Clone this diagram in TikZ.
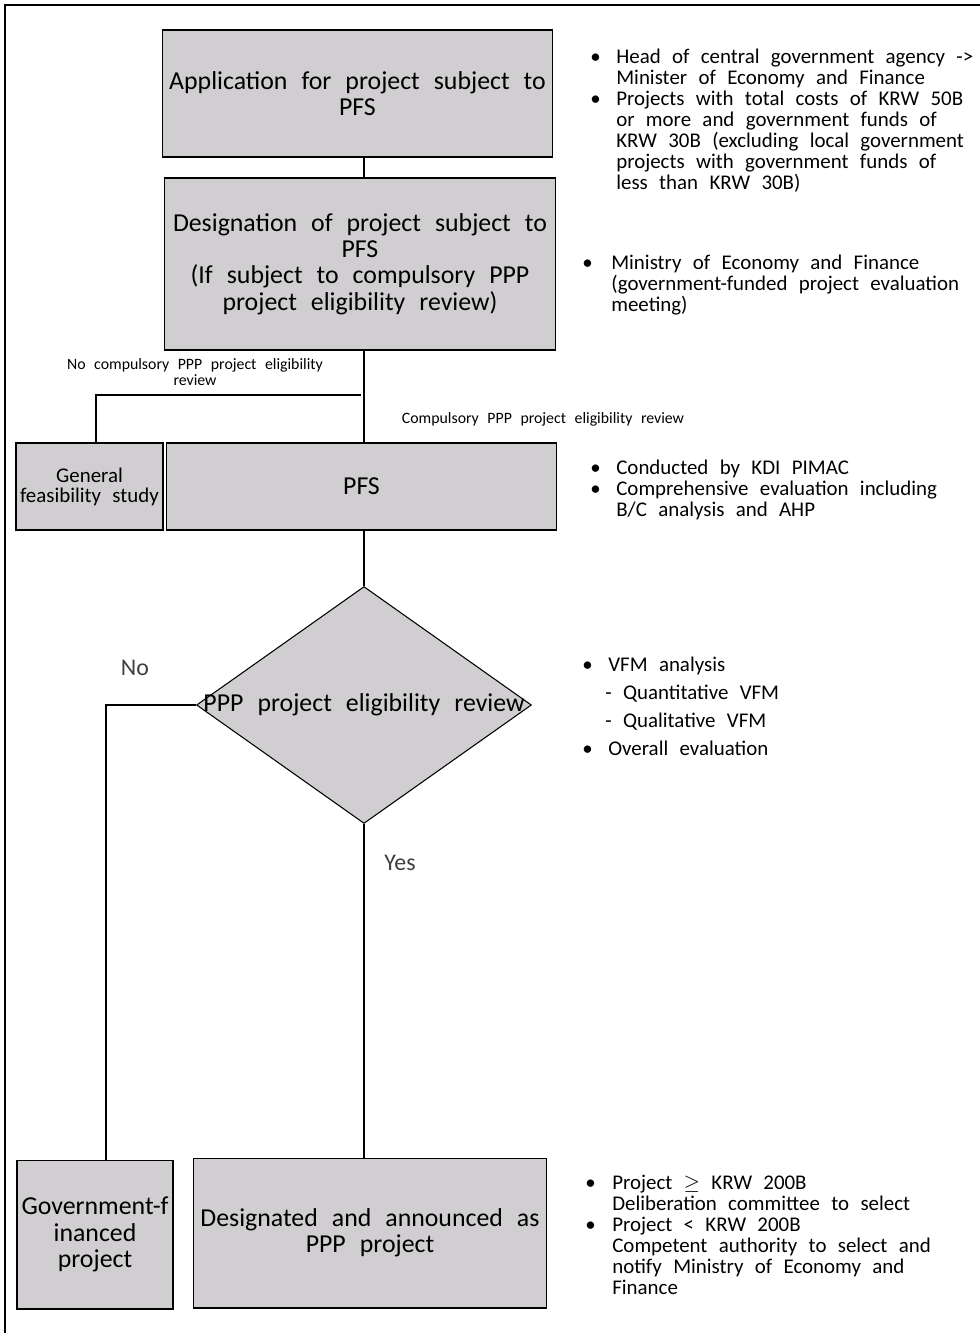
\documentclass[tikz,border=0pt]{standalone}
\usepackage{fontspec}
\setmainfont[WordSpace=2.4]{Carlito}
\usetikzlibrary{shapes.geometric}

\definecolor{boxgray}{RGB}{208,206,208}
\newcommand{\bigtxt}{\fontsize{14.7}{14.9}\selectfont}
\newcommand{\notetxt}{\fontsize{11.9}{11.9}\selectfont}
\newcommand{\smalltxt}{\fontsize{9}{9}\selectfont}
\newcommand{\bul}[1][0.52cm]{\makebox[#1][l]{\textbullet}}
\newcommand{\ind}[1][0.52cm]{\hspace*{#1}}

\tikzset{
  stage/.style={draw=black, fill=boxgray, line width=0.6pt, align=center, inner sep=0pt, font=\bigtxt},
  note/.style={anchor=north west, align=left, inner sep=0pt, font=\notetxt},
  link/.style={draw=black, line width=0.6pt},
}

\begin{document}
\begin{tikzpicture}[x=0.02cm, y=-0.02cm]
		\useasboundingbox (0,0) rectangle (980,1333);
		\draw[line width=0.6pt] (5,1333) -- (5,5) -- (980,5);

		% Boxes
		\node[stage, minimum width=7.82cm, minimum height=2.54cm] (app) at (357.5,93.5) {Application for project subject to\\PFS};
		\node[stage, minimum width=7.84cm, minimum height=3.44cm] (desig) at (360,264) {Designation of project subject to\\PFS\\(If subject to compulsory PPP\\project eligibility review)};
		\node[stage, minimum width=2.94cm, minimum height=1.74cm, font=\fontsize{11.9}{11.3}\selectfont] (gfs) at (89.5,486.5) {General\\feasibility study};
		\node[stage, minimum width=7.82cm, minimum height=1.74cm] (pfs) at (361.5,486.5) {PFS};
		\node[draw=black, fill=boxgray, line width=0.6pt, diamond, inner sep=0pt, minimum width=6.7cm, minimum height=4.74cm] (rev) at (364,705) {};
		\node[font=\bigtxt] (revtxt) at (rev.center) {PPP project eligibility review};
		\node[stage, minimum width=3.12cm, minimum height=2.98cm] (gov) at (95,1234.5) {Government-f\\inanced\\project};
		\node[stage, minimum width=7.08cm, minimum height=3cm] (ppp) at (370,1233) {Designated and announced as\\PPP project};
		\coordinate (spine) at (364,0);
		\coordinate (split) at (361,395);

		% Edges
		\draw[link] (app.south -| spine) -- (desig.north -| spine);
		\draw[link] (desig.south -| spine) -- (pfs.north -| spine);
		\draw[link] (split) -| ([xshift=0.13cm]gfs.north);
		\draw[link] (pfs.south -| rev.north) -- (rev.north);
		\draw[link] (rev.west) -| ([xshift=0.22cm]gov.north);
		\draw[link] (rev.south) -- (ppp.north -| rev.south);

		% Branch labels
		\node[font=\smalltxt, align=center] (nolab) at (195,372) {No compulsory PPP project eligibility\\review};
		\node[font=\smalltxt] (yeslab) at (543,419) {Compulsory PPP project eligibility review};
		\node[font=\fontsize{13.6}{13.6}\selectfont, text=black!75] (no) at (135,668) {No};
		\node[font=\fontsize{13.6}{13.6}\selectfont, text=black!75] (yes) at (400,863) {Yes};

		% Notes
		\node[note] (n1) at (590,49) {\bul Head of central government agency ->\\ \ind Minister of Economy and Finance\\ \bul Projects with total costs of KRW 50B\\ \ind or more and government funds of\\ \ind KRW 30B (excluding local government\\ \ind projects with government funds of\\ \ind less than KRW 30B)};
		\node[note] (n2) at (582,255) {\bul[0.58cm]Ministry of Economy and Finance\\ \ind[0.58cm](government-funded project evaluation\\ \ind[0.58cm]meeting)};
		\node[note] (n3) at (590,460) {\bul Conducted by KDI PIMAC\\ \bul Comprehensive evaluation including\\ \ind B/C analysis and AHP};
		\node[note, font=\fontsize{11.9}{15.9}\selectfont] (n4) at (582,657) {\bul VFM analysis\\ \ind[0.46cm]- Quantitative VFM\\ \ind[0.46cm]- Qualitative VFM\\ \bul Overall evaluation};
		\node[note] (n5) at (585,1175) {\bul[0.54cm]Project $\geq$ KRW 200B\\ \ind[0.54cm]Deliberation committee to select\\ \bul[0.54cm]Project < KRW 200B\\ \ind[0.54cm]Competent authority to select and\\ \ind[0.54cm]notify Ministry of Economy and\\ \ind[0.54cm]Finance};
	\end{tikzpicture}
\end{document}
